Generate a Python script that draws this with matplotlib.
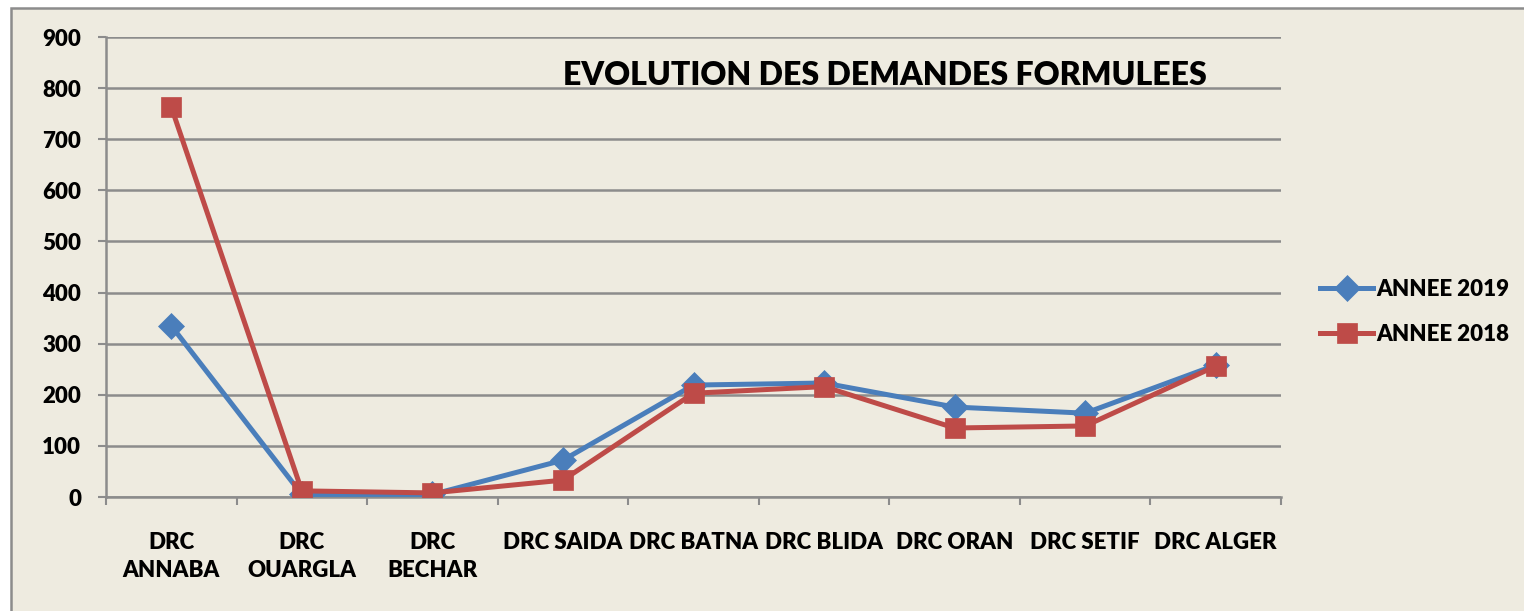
import matplotlib
matplotlib.use("Agg")
import matplotlib.pyplot as plt
from matplotlib.patches import Rectangle

# data
categories = ["DRC\nANNABA", "DRC\nOUARGLA", "DRC\nBECHAR", "DRC SAIDA", "DRC BATNA",
              "DRC BLIDA", "DRC ORAN", "DRC SETIF", "DRC ALGER"]
annee_2019 = [335, 5, 5, 72, 219, 223, 176, 164, 258]
annee_2018 = [763, 12, 8, 33, 203, 216, 135, 139, 256]
y_ticks = [0, 100, 200, 300, 400, 500, 600, 700, 800, 900]

bg = "#EEEBE0"
grid_col = "#8C8C8C"
blue = "#4A7EBB"
red = "#BE4B48"
wt = "heavy"

plt.rcParams["font.family"] = ["Lato", "DejaVu Sans"]
plt.rcParams["font.weight"] = wt

W, H = 1524, 611
fig = plt.figure(figsize=(W / 100, H / 100), dpi=100)
fig.patch.set_facecolor("white")
fig.patches.append(Rectangle((11 / W, -0.01), 1.0, 1 - 8 / H + 0.01, transform=fig.transFigure,
                             facecolor=bg, edgecolor="#8C8C8C", linewidth=1.8, zorder=-10))

ax = fig.add_axes([106 / W, 1 - 497 / H, (1281 - 106) / W, (497 - 37) / H])
ax.set_facecolor(bg)

x = list(range(len(categories)))
ax.plot(x, annee_2019, color=blue, lw=3.6, marker="D", ms=13, mec=blue, mew=0.5,
        label="ANNEE 2019", zorder=3)
ax.plot(x, annee_2018, color=red, lw=3.6, marker="s", ms=14, mec=red, mew=0.5,
        label="ANNEE 2018", zorder=4)

ax.set_ylim(0, 900)
ax.set_xlim(-0.5, len(categories) - 0.5)
ax.set_yticks(y_ticks)
ax.set_yticklabels([str(v) for v in y_ticks], fontsize=16, fontweight=wt)
ax.tick_params(axis="y", length=6, width=1.5, color=grid_col, pad=12)

ax.set_xticks([i - 0.5 for i in range(len(categories) + 1)])
ax.set_xticklabels([])
ax.tick_params(axis="x", which="major", length=6, width=1.5, color=grid_col)
ax.set_xticks(x, minor=True)
ax.set_xticklabels(categories, minor=True, fontsize=16, fontweight=wt, linespacing=1.4)
ax.tick_params(axis="x", which="minor", length=0, pad=25)

ax.grid(axis="y", color=grid_col, lw=1.8)
ax.set_axisbelow(True)
for s in ["top", "right"]:
    ax.spines[s].set_visible(False)
for s in ["left", "bottom"]:
    ax.spines[s].set_color(grid_col)
    ax.spines[s].set_linewidth(1.8)

ax.text(0.663, 0.917, "EVOLUTION DES DEMANDES FORMULEES", transform=ax.transAxes,
        ha="center", va="center", fontsize=23, fontweight=wt)

fig.legend(loc="center left", bbox_to_anchor=(1320 / W, 1 - 312 / H), frameon=False,
           prop={"size": 16, "weight": wt}, handlelength=2.4, handletextpad=0.15,
           labelspacing=1.1, borderpad=0, borderaxespad=0)

fig.savefig("out.png", dpi=100, facecolor=fig.get_facecolor())
